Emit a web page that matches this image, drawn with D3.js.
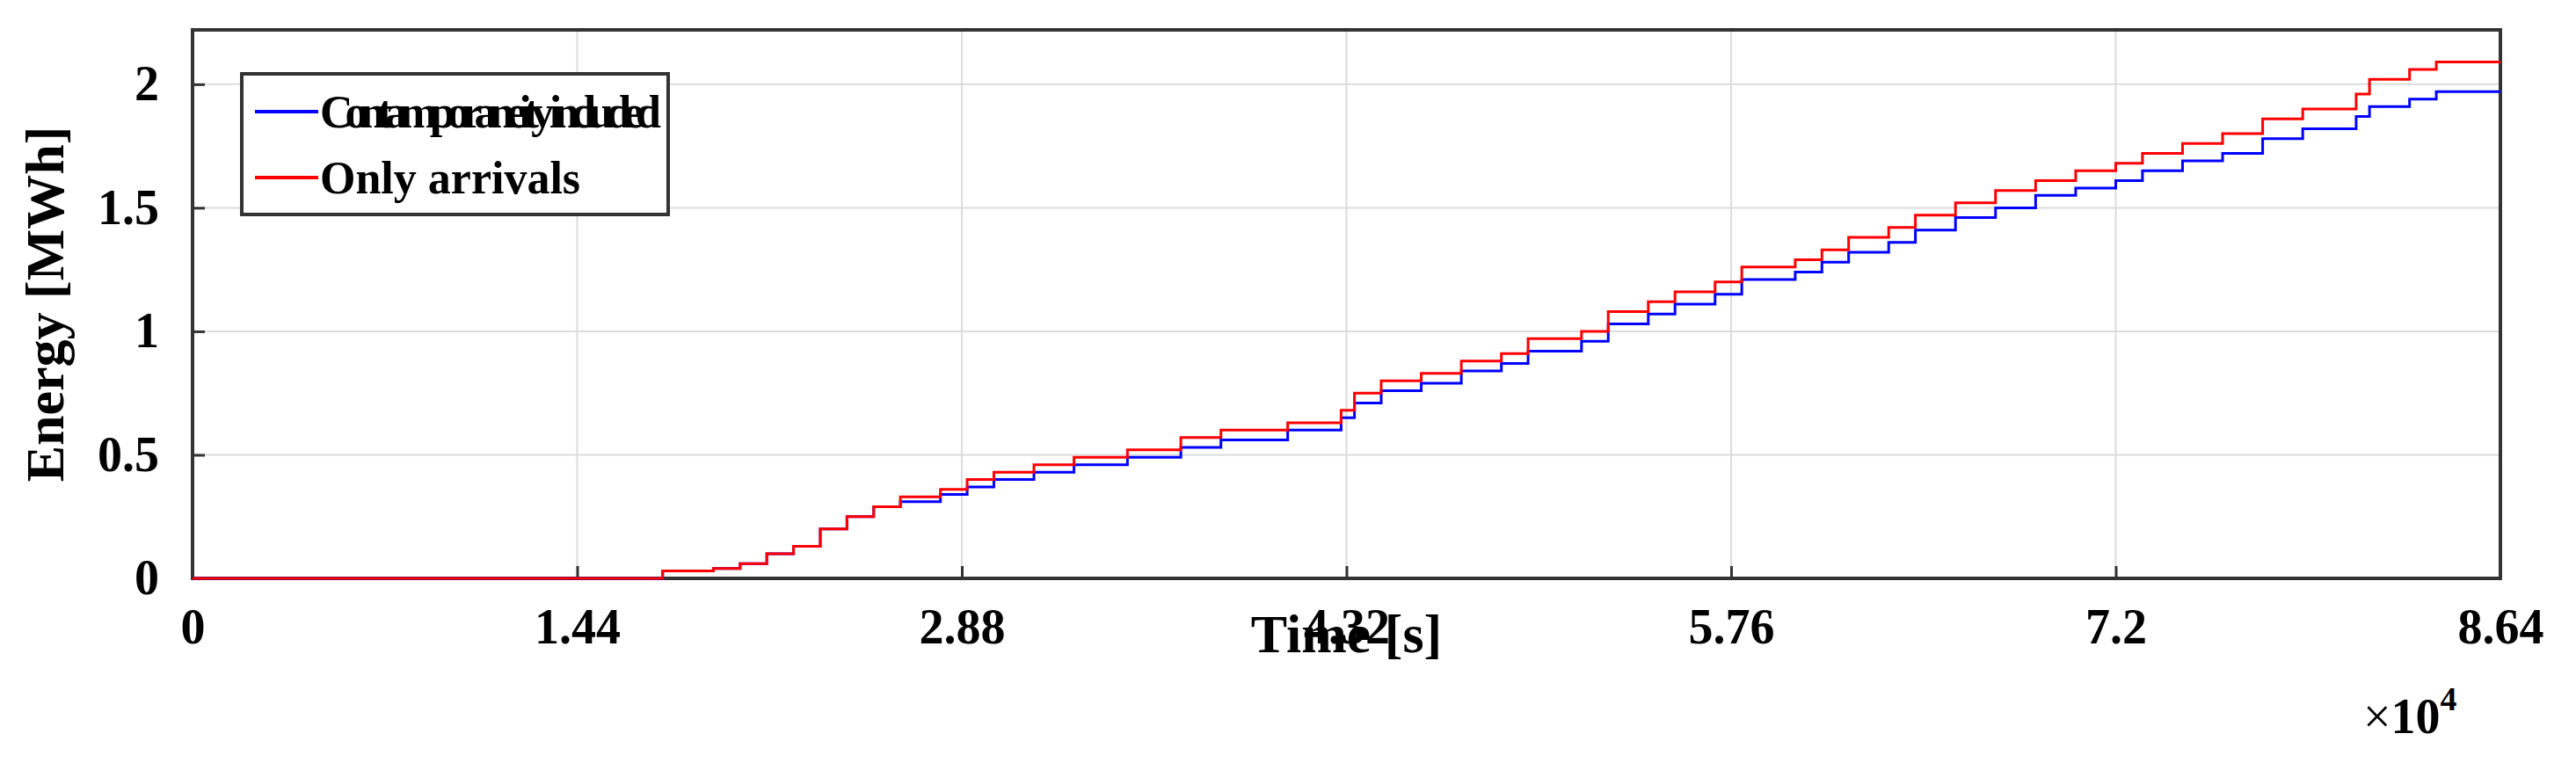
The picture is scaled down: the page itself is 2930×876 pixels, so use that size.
<!DOCTYPE html>
<html><head><meta charset="utf-8">
<script src="https://cdn.jsdelivr.net/npm/d3@7"></script>
<style>body{margin:0;background:#fff}text{font-family:"Liberation Serif","Times New Roman",serif;font-weight:bold}</style>
</head><body>
<svg id="c" width="2930" height="876"></svg>
<script>
// time in units of 1e4 s, energy in MWh
const xTicks = [0, 1.44, 2.88, 4.32, 5.76, 7.2, 8.64];
const yTicks = [0, 0.5, 1, 1.5, 2];
const redT = [0,1.75,1.76,1.95,2.05,2.15,2.25,2.35,2.45,2.55,2.65,2.8,2.9,3.0,3.15,3.3,3.5,3.7,3.85,4.1,4.3,4.35,4.45,4.6,4.75,4.9,5.0,5.2,5.3,5.45,5.55,5.7,5.8,6.0,6.1,6.2,6.35,6.45,6.6,6.75,6.9,7.05,7.2,7.3,7.45,7.6,7.75,7.9,8.1,8.15,8.3,8.4,8.64];
const redE = [0,0,0.03,0.04,0.06,0.1,0.13,0.2,0.25,0.29,0.33,0.36,0.4,0.43,0.46,0.49,0.52,0.57,0.6,0.63,0.68,0.75,0.8,0.83,0.88,0.91,0.97,1.0,1.08,1.12,1.16,1.2,1.26,1.29,1.33,1.38,1.42,1.47,1.52,1.57,1.61,1.65,1.68,1.72,1.76,1.8,1.86,1.9,1.96,2.02,2.06,2.09,2.09];
const blueE = [0,0,0.03,0.04,0.06,0.1,0.13,0.2,0.25,0.29,0.31,0.34,0.37,0.4,0.43,0.46,0.49,0.53,0.56,0.6,0.65,0.71,0.76,0.79,0.84,0.87,0.92,0.96,1.03,1.07,1.11,1.15,1.21,1.24,1.28,1.32,1.36,1.41,1.46,1.5,1.55,1.58,1.61,1.65,1.69,1.72,1.78,1.82,1.87,1.91,1.94,1.97,1.97];

const L = 219, R = 2844, T = 34, B = 658;
const svg = d3.select("#c");
const x = d3.scaleLinear().domain([0, 8.64]).range([L, R]);
const y = d3.scaleLinear().domain([0, 2.22]).range([B, T]);

// grid
svg.append("g").selectAll("line").data(xTicks.slice(1, -1)).enter().append("line")
  .attr("x1", d => x(d)).attr("x2", d => x(d)).attr("y1", T).attr("y2", B)
  .attr("stroke", "#dcdcdc").attr("stroke-width", 2);
svg.append("g").selectAll("line").data(yTicks.slice(1)).enter().append("line")
  .attr("x1", L).attr("x2", R).attr("y1", d => y(d)).attr("y2", d => y(d))
  .attr("stroke", "#dcdcdc").attr("stroke-width", 2);

// axes
const ax = svg.append("g").attr("transform", `translate(0,${B})`)
  .call(d3.axisBottom(x).tickValues(xTicks).tickFormat(d => String(d)).tickSizeInner(-14).tickSizeOuter(0).tickPadding(34));
const ay = svg.append("g").attr("transform", `translate(${L},0)`)
  .call(d3.axisLeft(y).tickValues(yTicks).tickFormat(d => String(d)).tickSizeInner(-14).tickSizeOuter(0).tickPadding(38));
[ax, ay].forEach(g => {
  g.select(".domain").remove();
  g.selectAll("line").attr("stroke", "#333").attr("stroke-width", 3);
  g.selectAll("text").attr("font-size", 56).attr("fill", "#000")
   .style("font-family", '"Liberation Serif",serif').style("font-weight", "bold");
});
svg.append("rect").attr("x", L).attr("y", T).attr("width", R - L).attr("height", B - T)
  .attr("fill", "none").attr("stroke", "#333").attr("stroke-width", 4);

const line = d3.line().curve(d3.curveStepAfter).x(d => x(d[0])).y(d => y(d[1]));
svg.append("path").datum(redT.map((t, i) => [t, blueE[i]])).attr("d", line)
  .attr("fill", "none").attr("stroke", "#0000ff").attr("stroke-width", 3);
svg.append("path").datum(redT.map((t, i) => [t, redE[i]])).attr("d", line)
  .attr("fill", "none").attr("stroke", "#ff0000").attr("stroke-width", 3);

svg.append("text").attr("x", (L + R) / 2).attr("y", 742).attr("text-anchor", "middle")
  .attr("font-size", 62).text("Time [s]");
svg.append("text").attr("transform", `translate(72,${(T + B) / 2}) rotate(-90)`)
  .attr("text-anchor", "middle").attr("font-size", 62).text("Energy [MWh]");
const ex = svg.append("text").attr("x", 2688).attr("y", 834).attr("font-size", 56);
ex.append("tspan").attr("font-weight", "normal").text("×");
ex.append("tspan").text("10");
ex.append("tspan").attr("dy", -26).attr("font-size", 38).text("4");

// legend
const lg = svg.append("g");
lg.append("rect").attr("x", 275).attr("y", 84).attr("width", 485).attr("height", 160)
  .attr("fill", "#fff").attr("stroke", "#333").attr("stroke-width", 4);
const items = [["Contamporaneity included", "#0000ff"], ["Only arrivals", "#ff0000"]];
items.forEach((it, i) => {
  const yy = 127 + i * 75;
  lg.append("line").attr("x1", 290).attr("x2", 362).attr("y1", yy).attr("y2", yy)
    .attr("stroke", it[1]).attr("stroke-width", 4);
  lg.append("text").attr("x", 364).attr("y", yy + 18).attr("font-size", 52)
    .attr("textLength", i === 0 ? 388 : null).text(it[0]);
});
</script>
</body></html>
